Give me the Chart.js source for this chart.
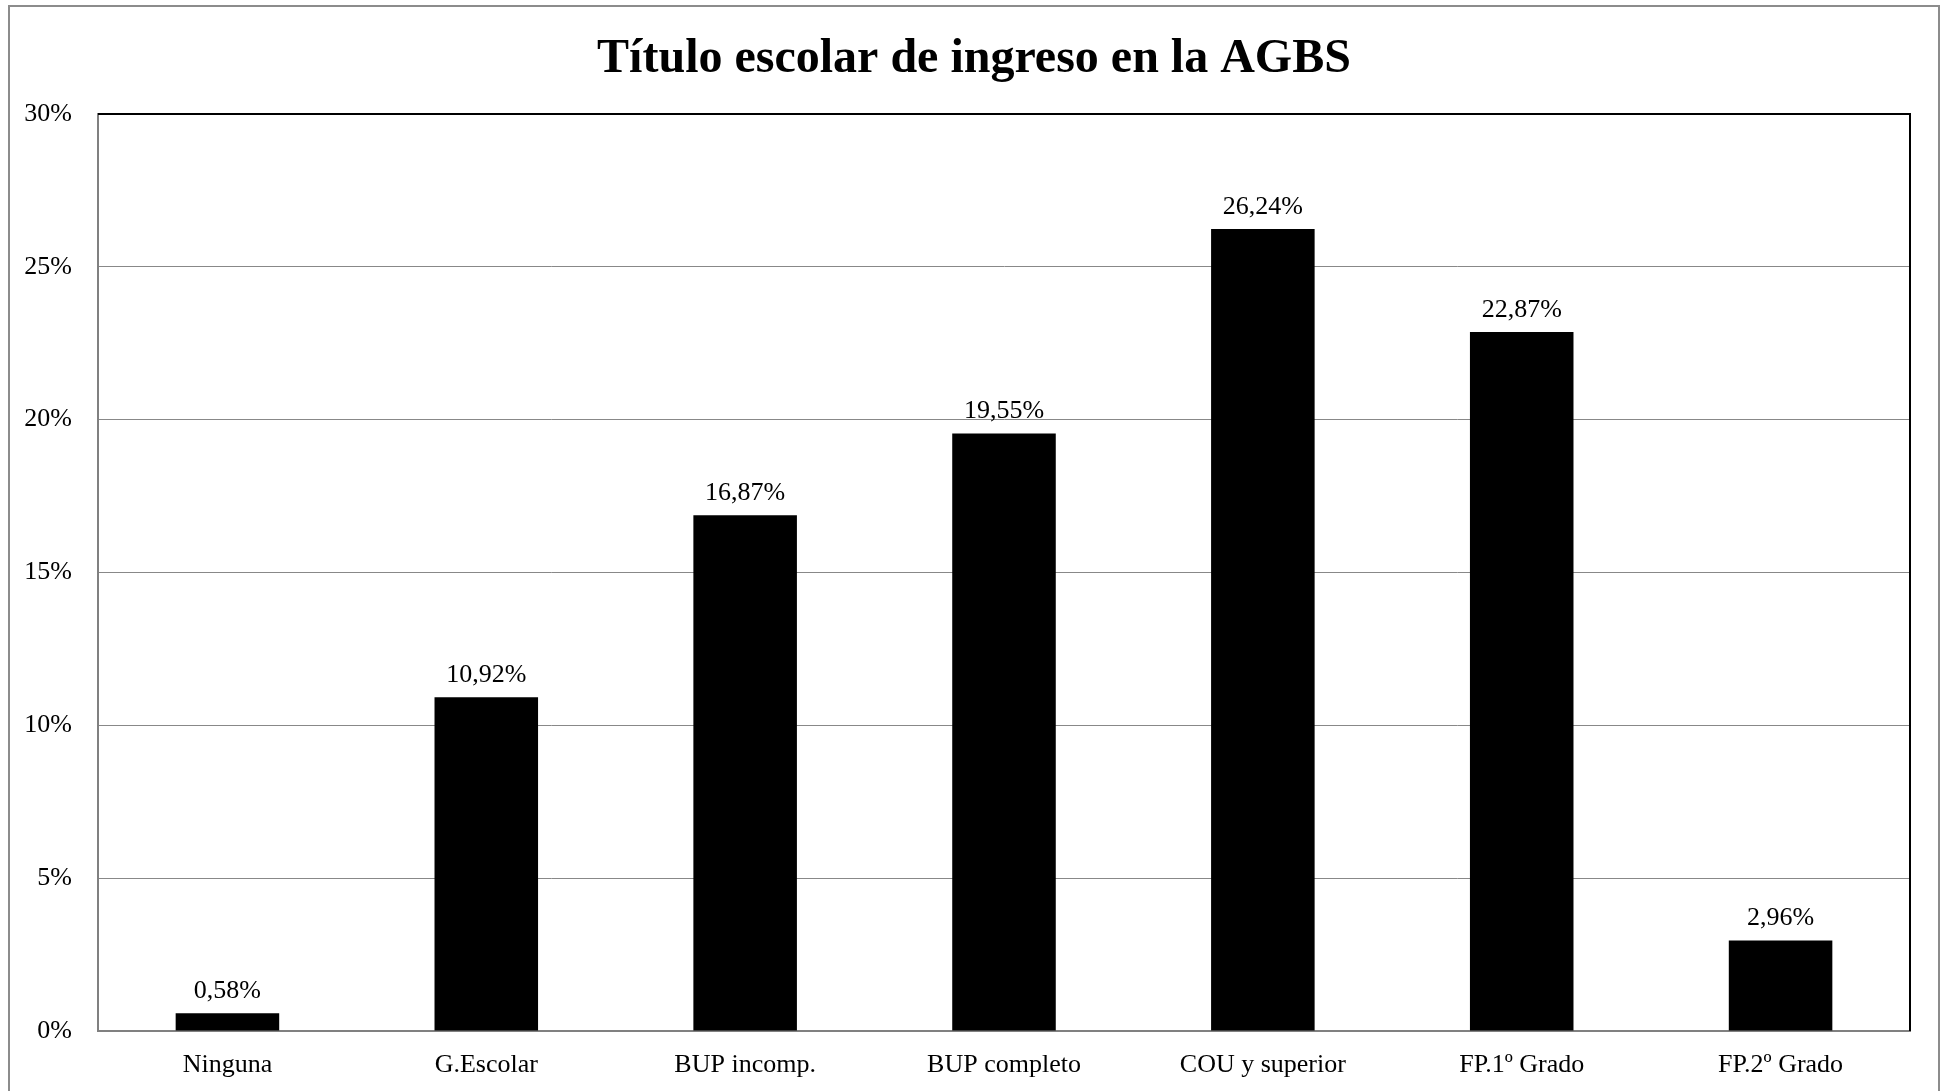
<!DOCTYPE html>
<html>
<head>
<meta charset="utf-8">
<script src="https://cdn.jsdelivr.net/npm/chart.js@4/dist/chart.umd.min.js"></script>
<style>
  html, body { margin: 0; padding: 0; background: #fff; }
  #wrap { width: 1948px; height: 1091px; }
</style>
</head>
<body>
<div id="wrap"><canvas id="chart" width="1948" height="1091"></canvas></div>
<script>
// data
const categories = ["Ninguna", "G.Escolar", "BUP incomp.", "BUP completo", "COU y superior", "FP.1º Grado", "FP.2º Grado"];
const values = [0.58, 10.92, 16.87, 19.55, 26.24, 22.87, 2.96];
const yTicks = [0, 5, 10, 15, 20, 25, 30];
const titleText = "Título escolar de ingreso en la AGBS";

const serif = "'Liberation Serif', 'Times New Roman', serif";

// outer frame, title, top/right plot border
const framePlugin = {
  id: "frame",
  beforeDraw(chart) {
    const ctx = chart.ctx;
    ctx.save();
    ctx.fillStyle = "#fff";
    ctx.fillRect(0, 0, chart.width, chart.height);
    ctx.strokeStyle = "#8c8c8c";
    ctx.lineWidth = 2;
    ctx.beginPath();
    ctx.moveTo(9, chart.height + 5);
    ctx.lineTo(9, 6);
    ctx.lineTo(1939, 6);
    ctx.lineTo(1939, chart.height + 5);
    ctx.stroke();
    // title centred on the whole frame
    ctx.fillStyle = "#000";
    ctx.font = "bold 48px " + serif;
    ctx.textAlign = "center";
    ctx.textBaseline = "middle";
    ctx.fillText(titleText, 974, 60);
    ctx.restore();
  },
  afterDraw(chart) {
    const { ctx, chartArea: a } = chart;
    ctx.save();
    ctx.strokeStyle = "#000";
    ctx.lineWidth = 2;
    ctx.beginPath();
    ctx.moveTo(a.left, a.top);
    ctx.lineTo(a.right, a.top);
    ctx.lineTo(a.right, a.bottom);
    ctx.stroke();
    ctx.restore();
  }
};

// value labels above bars
const valueLabels = {
  id: "valueLabels",
  afterDatasetsDraw(chart) {
    const ctx = chart.ctx;
    const meta = chart.getDatasetMeta(0);
    ctx.save();
    ctx.font = "26px " + serif;
    ctx.fillStyle = "#000";
    ctx.textAlign = "center";
    ctx.textBaseline = "bottom";
    meta.data.forEach((bar, i) => {
      const txt = values[i].toFixed(2).replace(".", ",") + "%";
      ctx.fillText(txt, bar.x, bar.y - 9);
    });
    ctx.restore();
  }
};

new Chart(document.getElementById("chart"), {
  type: "bar",
  data: {
    labels: categories,
    datasets: [{
      data: values,
      backgroundColor: "#000",
      borderWidth: 0,
      barPercentage: 0.4,
      categoryPercentage: 1
    }]
  },
  options: {
    responsive: false,
    animation: false,
    layout: { padding: { left: 0, right: 38, top: 114, bottom: 0 } },
    plugins: {
      legend: { display: false },
      tooltip: { enabled: false },
      title: { display: false }
    },
    scales: {
      x: {
        grid: { display: false },
        border: { display: true, color: "#808080", width: 2 },
        ticks: { color: "#000", font: { family: serif, size: 26 }, padding: 11, maxRotation: 0 },
        afterFit(s) { s.height = 60; }
      },
      y: {
        min: 0,
        max: 30,
        afterBuildTicks(s) { s.ticks = yTicks.map(v => ({ value: v })); },
        grid: { color: "#888", lineWidth: 1, drawTicks: false },
        border: { display: true, color: "#808080", width: 2 },
        ticks: {
          color: "#000",
          font: { family: serif, size: 26 },
          padding: 26,
          callback: v => v + "%"
        },
        afterFit(s) { s.width = 98; }
      }
    }
  },
  plugins: [framePlugin, valueLabels]
});
</script>
</body>
</html>
